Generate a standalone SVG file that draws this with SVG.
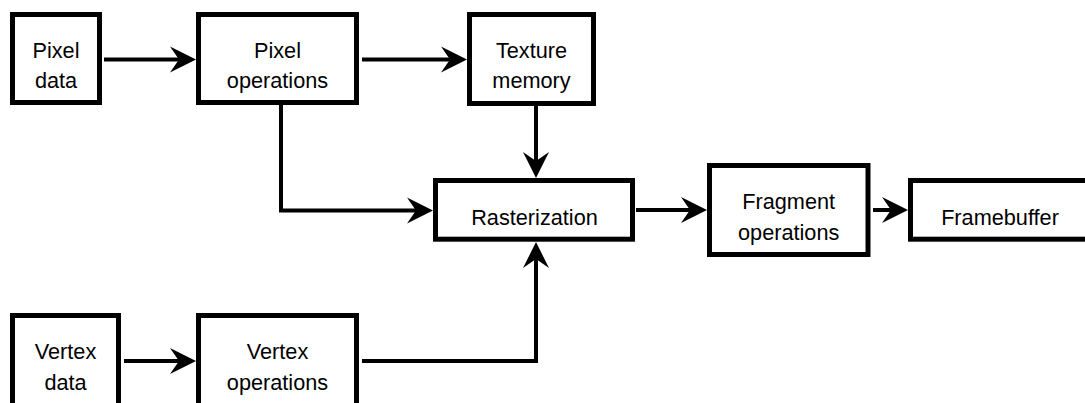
<svg xmlns="http://www.w3.org/2000/svg" width="1085" height="403" viewBox="0 0 1085 403">
<style>
.box{fill:#fff;stroke:#000;stroke-width:5}
.lbl{font-family:"Liberation Sans",Arial,Helvetica,sans-serif;font-size:21.7px;fill:#000;text-anchor:middle}
.conn{fill:none;stroke:#000;stroke-width:4;stroke-linejoin:miter}
</style>
<defs>
<marker id="arr" markerUnits="userSpaceOnUse" markerWidth="30" markerHeight="30" refX="16" refY="13" orient="auto" overflow="visible">
<path d="M0,0 L26,13 L0,26 L9,13 Z" fill="#000"/>
</marker>
</defs>
<rect width="1085" height="403" fill="#fff"/>
<g id="connectors">
<path class="conn" d="M104,59.5 H186" marker-end="url(#arr)"/>
<path class="conn" d="M362,59.5 H457" marker-end="url(#arr)"/>
<path class="conn" d="M536,106 V168" marker-end="url(#arr)"/>
<path class="conn" d="M281,105 V210.5 H423" marker-end="url(#arr)"/>
<path class="conn" d="M636,210 H697" marker-end="url(#arr)"/>
<path class="conn" d="M873,210 H898" marker-end="url(#arr)"/>
<path class="conn" d="M124,361 H186" marker-end="url(#arr)"/>
<path class="conn" d="M362,361 H536 V252" marker-end="url(#arr)"/>
</g>
<g id="pixel-data">
<rect class="box" x="12.5" y="14.5" width="87" height="88"/>
<text class="lbl" x="56" y="57.7">Pixel</text>
<text class="lbl" x="56" y="88.3">data</text>
</g>
<g id="pixel-operations">
<rect class="box" x="198.5" y="14.5" width="158" height="88"/>
<text class="lbl" x="277.5" y="57.7">Pixel</text>
<text class="lbl" x="277.5" y="88.3">operations</text>
</g>
<g id="texture-memory">
<rect class="box" x="469.5" y="14.5" width="124" height="89"/>
<text class="lbl" x="531.5" y="57.7">Texture</text>
<text class="lbl" x="531.5" y="88.3">memory</text>
</g>
<g id="rasterization">
<rect class="box" x="435.5" y="180.5" width="197" height="58.7"/>
<text class="lbl" x="534.5" y="225">Rasterization</text>
</g>
<g id="fragment-operations">
<rect class="box" x="709.5" y="165.5" width="158.5" height="89"/>
<text class="lbl" x="788.7" y="209.2">Fragment</text>
<text class="lbl" x="788.7" y="239.8">operations</text>
</g>
<g id="framebuffer">
<rect class="box" x="910.5" y="180.5" width="180" height="58.7"/>
<text class="lbl" x="1000" y="225">Framebuffer</text>
</g>
<g id="vertex-data">
<rect class="box" x="12.5" y="315.5" width="106" height="90"/>
<text class="lbl" x="65.5" y="359">Vertex</text>
<text class="lbl" x="65.5" y="390">data</text>
</g>
<g id="vertex-operations">
<rect class="box" x="198.5" y="315.5" width="158" height="90"/>
<text class="lbl" x="277.5" y="359">Vertex</text>
<text class="lbl" x="277.5" y="390">operations</text>
</g>
</svg>
